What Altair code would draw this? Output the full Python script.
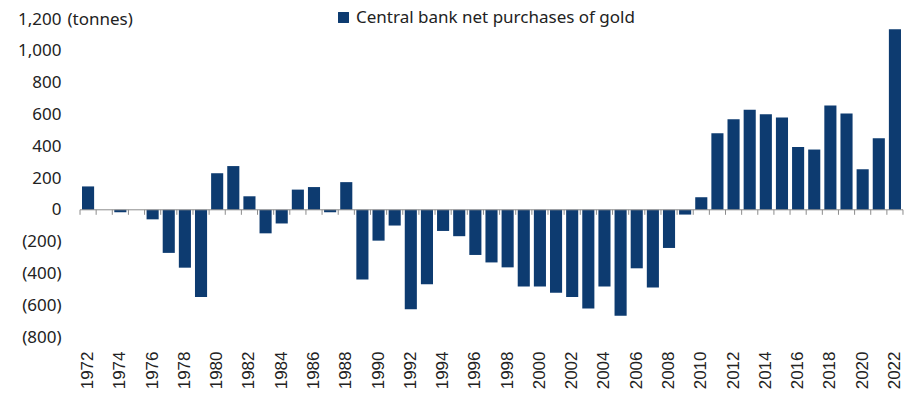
import altair as alt
import pandas as pd

years = list(range(1972, 2023))
values = [147, 0, -15, 0, -60, -271, -364, -549, 230, 275, 85, -148, -86, 127,
          143, -15, 174, -438, -194, -99, -625, -469, -133, -166, -284, -331,
          -362, -482, -482, -522, -549, -621, -482, -667, -368, -488, -240, -30,
          79, 481, 569, 629, 601, 580, 395, 379, 656, 605, 255, 450, 1136]
series_name = "Central bank net purchases of gold"
y_ticks = [-800, -600, -400, -200, 0, 200, 400, 600, 800, 1000, 1200]

df = pd.DataFrame({"year": years, "value": values, "series": series_name})

W, H = 823, 318
NAVY = "#0d3b70"
FONT = "Noto Sans"
GREY = "#8c8c8c"

x_scale = alt.Scale(paddingInner=0.25, paddingOuter=0.125)
x_axis = alt.Axis(title=None, labelAngle=-90, labelFont="Liberation Sans",
                  labelFontSize=17, labelColor="#222", labelPadding=14,
                  ticks=False, domain=False, labelOverlap=False,
                  labelExpr="datum.value % 2 == 0 ? datum.label : ''")

y_scale = alt.Scale(domain=[-800, 1200], nice=False, zero=False)
y_axis = alt.Axis(values=y_ticks, grid=False, domain=False, ticks=False,
                  labelFont=FONT, labelFontSize=17, labelColor="#222",
                  labelPadding=19, labelOverlap=False, labelFlush=False,
                  labelExpr="datum.value < 0 ? '(' + format(-datum.value, ',') + ')' : format(datum.value, ',') + '\u2002'",
                  title="(tonnes)", titleAngle=0, titleX=-13, titleY=0,
                  titleAlign="left", titleBaseline="middle",
                  titleFont=FONT, titleFontSize=17, titleFontWeight="normal",
                  titleColor="#222")

base = alt.Chart(df).transform_calculate(z="0")

bars = base.mark_bar(color=NAVY).encode(
    x=alt.X("year:O", scale=x_scale, axis=x_axis),
    y=alt.Y("value:Q", scale=y_scale, axis=y_axis),
    color=alt.Color("series:N", scale=alt.Scale(range=[NAVY]),
                    legend=alt.Legend(title=None, orient="none", legendX=255, legendY=-10,
                                      symbolType="square", symbolSize=120,
                                      symbolStrokeWidth=0, labelFont=FONT,
                                      labelFontSize=17, labelColor="#222",
                                      labelLimit=400)),
)

zero_line = base.mark_rule(color=GREY, strokeWidth=1).encode(
    y=alt.Y("z:Q", scale=y_scale, axis=y_axis)
).transform_filter("datum.year == 1972")

ticks = base.mark_rule(color=GREY, strokeWidth=1, xOffset=-2, y2Offset=5).encode(
    x=alt.X("year:O", bandPosition=0, scale=x_scale, axis=x_axis),
    y=alt.Y("z:Q", scale=y_scale, axis=y_axis),
    y2="z:Q",
)

last_tick = base.mark_rule(color=GREY, strokeWidth=1, xOffset=2, y2Offset=5).encode(
    x=alt.X("year:O", bandPosition=1, scale=x_scale, axis=x_axis),
    y=alt.Y("z:Q", scale=y_scale, axis=y_axis),
    y2="z:Q",
).transform_filter("datum.year == 2022")

chart = alt.layer(bars, zero_line, ticks, last_tick).properties(
    width=W, height=H,
    background="white",
    autosize=alt.AutoSizeParams(type="none"),
    padding={"left": 72, "top": 11, "right": 5, "bottom": 56},
).configure_view(stroke=None)

chart.save("out.html", embed_options={"renderer": "svg", "actions": False})
